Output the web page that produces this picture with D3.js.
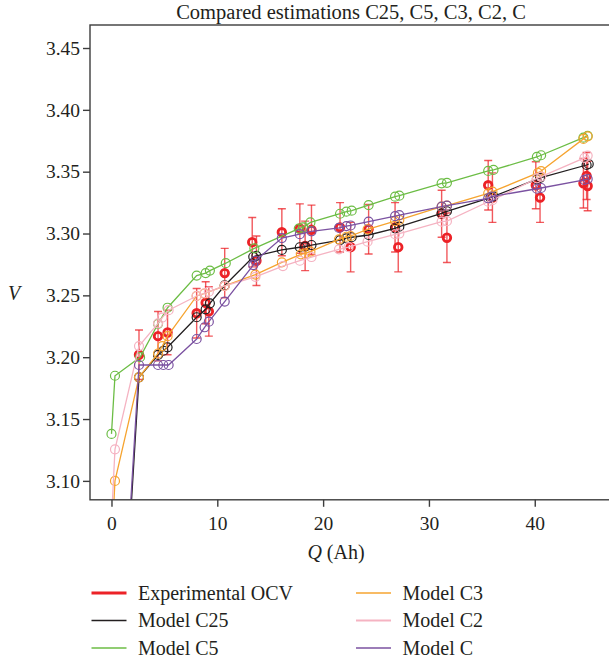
<!DOCTYPE html>
<html>
<head>
<meta charset="utf-8">
<script src="https://cdn.jsdelivr.net/npm/d3@7"></script>
<style>
  body { margin: 0; background: #fff; }
  text { font-family: "Liberation Serif", "DejaVu Serif", serif; fill: #231f20; }
</style>
</head>
<body>
<div id="chart"></div>
<script>
// Experimental OCV points (with error bars)
var qExp = [2.6, 4.4, 5.3, 8.05, 8.9, 9.2, 10.7, 13.3, 13.7, 16.1, 17.8, 18.3, 18.9, 21.6, 22.6, 24.3, 26.8, 27.1, 31.2, 31.7, 35.6, 36.0, 40.1, 40.5, 44.6, 44.9, 45.0];
var vExp = [3.202, 3.217, 3.220, 3.2355, 3.244, 3.237, 3.268, 3.293, 3.278, 3.301, 3.304, 3.290, 3.303, 3.305, 3.289, 3.3035, 3.305, 3.289, 3.316, 3.2966, 3.339, 3.329, 3.339, 3.329, 3.3406, 3.3465, 3.3384];
var errExp = [0.02, 0.02, 0.018, 0.02, 0.017, 0.02, 0.02, 0.02, 0.02, 0.019, 0.02, 0.02, 0.02, 0.02, 0.02, 0.02, 0.02, 0.02, 0.019, 0.02, 0.02, 0.02, 0.019, 0.02, 0.02, 0.019, 0.02];

// Model C25
var qC25 = [0, 2.6, 4.4, 4.9, 5.3, 8.05, 8.9, 9.3, 10.7, 13.4, 13.7, 16.1, 17.8, 18.3, 18.9, 21.6, 22.2, 22.7, 24.3, 26.8, 27.2, 31.2, 31.7, 35.8, 36.1, 40.2, 40.5, 44.9, 45.1];
var vC25 = [2.817, 3.1837, 3.2018, 3.2052, 3.208, 3.2323, 3.2387, 3.2436, 3.258, 3.2812, 3.282, 3.2867, 3.2889, 3.2894, 3.2907, 3.2947, 3.296, 3.297, 3.2988, 3.3042, 3.3055, 3.3163, 3.318, 3.329, 3.330, 3.3440, 3.345, 3.3554, 3.3562];

// Model C5
var qC5 = [0, 0.33, 2.7, 4.4, 5.3, 8.05, 8.9, 9.3, 10.8, 13.5, 17.7, 18.1, 18.8, 21.6, 22.2, 22.7, 24.3, 26.8, 27.2, 31.2, 31.7, 35.6, 36.1, 40.2, 40.6, 44.6, 45.0];
var vC5 = [3.138, 3.185, 3.200, 3.227, 3.240, 3.266, 3.268, 3.270, 3.276, 3.288, 3.304, 3.305, 3.309, 3.316, 3.3177, 3.3185, 3.323, 3.3298, 3.3306, 3.3406, 3.341, 3.3506, 3.3514, 3.362, 3.3633, 3.3775, 3.379];

// Model C3
var qC3 = [0, 0.33, 2.6, 4.4, 4.8, 5.3, 8.05, 8.8, 10.7, 13.6, 16.1, 17.9, 18.3, 18.8, 21.5, 22.2, 22.6, 24.2, 26.8, 27.2, 31.2, 31.7, 35.6, 36.0, 40.3, 40.6, 44.6, 45.0];
var vC3 = [3.044, 3.100, 3.1837, 3.203, 3.209, 3.217, 3.2495, 3.2515, 3.2577, 3.2668, 3.2767, 3.2832, 3.2840, 3.2853, 3.2953, 3.2974, 3.298, 3.3034, 3.310, 3.311, 3.3217, 3.3225, 3.3325, 3.3338, 3.3490, 3.3505, 3.3765, 3.3785];

// Model C2
var qC2 = [0, 0.33, 2.6, 4.4, 4.8, 5.4, 8.05, 8.8, 9.2, 10.7, 13.6, 16.2, 17.8, 18.9, 21.5, 22.4, 24.2, 26.8, 27.2, 31.2, 31.7, 35.6, 36.0, 40.2, 40.6, 44.7, 45.0];
var vC2 = [3.068, 3.1255, 3.209, 3.2274, 3.232, 3.238, 3.2495, 3.2517, 3.253, 3.2576, 3.265, 3.2737, 3.278, 3.281, 3.2872, 3.289, 3.2934, 3.2994, 3.300, 3.3096, 3.310, 3.3257, 3.327, 3.3446, 3.346, 3.3612, 3.363];

// Model C
var qC = [0, 2.6, 4.4, 4.9, 5.4, 8.05, 8.8, 9.2, 10.7, 13.4, 13.6, 16.1, 17.8, 18.9, 21.5, 22.2, 22.6, 24.3, 26.8, 27.2, 31.2, 31.7, 35.6, 35.9, 40.2, 40.6, 44.7, 45.0];
var vC = [2.825, 3.1937, 3.1937, 3.1937, 3.1937, 3.2147, 3.2242, 3.2287, 3.245, 3.2745, 3.278, 3.2963, 3.2995, 3.3018, 3.3045, 3.3060, 3.3065, 3.3096, 3.3140, 3.3148, 3.3217, 3.3225, 3.3285, 3.3298, 3.3362, 3.3368, 3.3433, 3.3441];

var yTicks = [3.10, 3.15, 3.20, 3.25, 3.30, 3.35, 3.40, 3.45];
var xTicks = [0, 10, 20, 30, 40];

var models = [
  { name: "Model C25", q: qC25, v: vC25, color: "#231f20" },
  { name: "Model C5", q: qC5, v: vC5, color: "#6cbd45" },
  { name: "Model C3", q: qC3, v: vC3, color: "#f6a430" },
  { name: "Model C2", q: qC2, v: vC2, color: "#f5b3c2" },
  { name: "Model C", q: qC, v: vC, color: "#7b52a1" }
];
var expColor = "#ec2227";

var svgWidth = 609;
var svgHeight = 660;

var margin = { top: 25, left: 90 };
var plotRight = 612;
var plotBottom = 499.8;

var svg = d3.select("#chart")
  .append("svg")
  .attr("width", svgWidth)
  .attr("height", svgHeight);

var x = d3.scaleLinear()
  .domain([-2.03, 47.3])
  .range([margin.left, plotRight]);

var y = d3.scaleLinear()
  .domain([3.0847, 3.4686])
  .range([plotBottom, margin.top]);

// clip
svg.append("clipPath").attr("id", "clip")
  .append("rect")
  .attr("x", margin.left)
  .attr("y", margin.top)
  .attr("width", plotRight - margin.left)
  .attr("height", plotBottom - margin.top);

var plot = svg.append("g").attr("clip-path", "url(#clip)");

// error bars for experimental data
var expData = qExp.map(function(q, i) { return { q: q, v: vExp[i], e: errExp[i] }; });

var err = plot.append("g")
  .attr("stroke", expColor)
  .attr("stroke-opacity", 0.75)
  .attr("stroke-width", 1.4);

expData.forEach(function(d) {
  var cx = x(d.q);
  err.append("line")
    .attr("x1", cx).attr("x2", cx)
    .attr("y1", y(d.v - d.e)).attr("y2", y(d.v + d.e));
  err.append("line")
    .attr("x1", cx - 4).attr("x2", cx + 4)
    .attr("y1", y(d.v - d.e)).attr("y2", y(d.v - d.e));
  err.append("line")
    .attr("x1", cx - 4).attr("x2", cx + 4)
    .attr("y1", y(d.v + d.e)).attr("y2", y(d.v + d.e));
});

// experimental markers
plot.selectAll("circle.exp")
  .data(expData)
  .enter()
  .append("circle")
  .attr("class", "exp")
  .attr("cx", d => x(d.q))
  .attr("cy", d => y(d.v))
  .attr("r", 3.8)
  .attr("fill", "none")
  .attr("stroke", expColor)
  .attr("stroke-width", 2.8);

// model lines and markers
var line = d3.line()
  .x(d => x(d[0]))
  .y(d => y(d[1]));

models.forEach(function(m) {
  var pts = m.q.map(function(q, i) { return [q, m.v[i]]; });
  plot.append("path")
    .datum(pts)
    .attr("d", line)
    .attr("fill", "none")
    .attr("stroke", m.color)
    .attr("stroke-width", 1.3);
  plot.selectAll(null)
    .data(pts)
    .enter()
    .append("circle")
    .attr("cx", d => x(d[0]))
    .attr("cy", d => y(d[1]))
    .attr("r", 4.5)
    .attr("fill", "none")
    .attr("stroke", m.color)
    .attr("stroke-width", 1.2);
});

// frame
svg.append("rect")
  .attr("x", margin.left)
  .attr("y", margin.top)
  .attr("width", plotRight - margin.left)
  .attr("height", plotBottom - margin.top)
  .attr("fill", "none")
  .attr("stroke", "#3d3d3d")
  .attr("stroke-width", 1.4);

// axes
var yAxis = svg.append("g")
  .attr("transform", `translate(${margin.left},0)`)
  .call(d3.axisLeft(y).tickValues(yTicks).tickFormat(d3.format(".2f")).tickSize(7).tickPadding(3));

var xAxis = svg.append("g")
  .attr("transform", `translate(0,${plotBottom})`)
  .call(d3.axisBottom(x).tickValues(xTicks).tickSize(7).tickPadding(9));

[xAxis, yAxis].forEach(function(a) {
  a.select(".domain").remove();
  a.selectAll("line").attr("stroke", "#3d3d3d").attr("stroke-width", 1.4);
  a.selectAll("text")
    .style("font-family", "'Liberation Serif', serif")
    .style("font-size", "19.5px")
    .attr("fill", "#231f20");
});

// title
svg.append("text")
  .attr("x", 351)
  .attr("y", 19)
  .attr("text-anchor", "middle")
  .style("font-size", "20.5px")
  .text("Compared estimations C25, C5, C3, C2, C");

// axis labels
svg.append("text")
  .attr("x", 14)
  .attr("y", 300)
  .attr("text-anchor", "middle")
  .style("font-size", "20px")
  .style("font-style", "italic")
  .text("V");

var xl = svg.append("text")
  .attr("x", 336)
  .attr("y", 559)
  .attr("text-anchor", "middle")
  .style("font-size", "20px");
xl.append("tspan").style("font-style", "italic").text("Q");
xl.append("tspan").text(" (Ah)");

// legend
var legendItems = [
  { name: "Experimental OCV", color: expColor, w: 3 },
  { name: models[0].name, color: models[0].color, w: 1.5 },
  { name: models[1].name, color: models[1].color, w: 1.5 },
  { name: models[2].name, color: models[2].color, w: 1.5 },
  { name: models[3].name, color: models[3].color, w: 1.8 },
  { name: models[4].name, color: models[4].color, w: 1.5 }
];

var legend = svg.append("g");
legendItems.forEach(function(d, i) {
  var col = Math.floor(i / 3), row = i % 3;
  var lx = col === 0 ? 91.5 : 356;
  var ly = 593 + row * 27.5;
  legend.append("line")
    .attr("x1", lx).attr("x2", lx + 35)
    .attr("y1", ly).attr("y2", ly)
    .attr("stroke", d.color)
    .attr("stroke-width", d.w);
  legend.append("text")
    .attr("x", lx + 46.5)
    .attr("y", ly + 6.5)
    .style("font-size", "20px")
    .text(d.name);
});
</script>
</body>
</html>
